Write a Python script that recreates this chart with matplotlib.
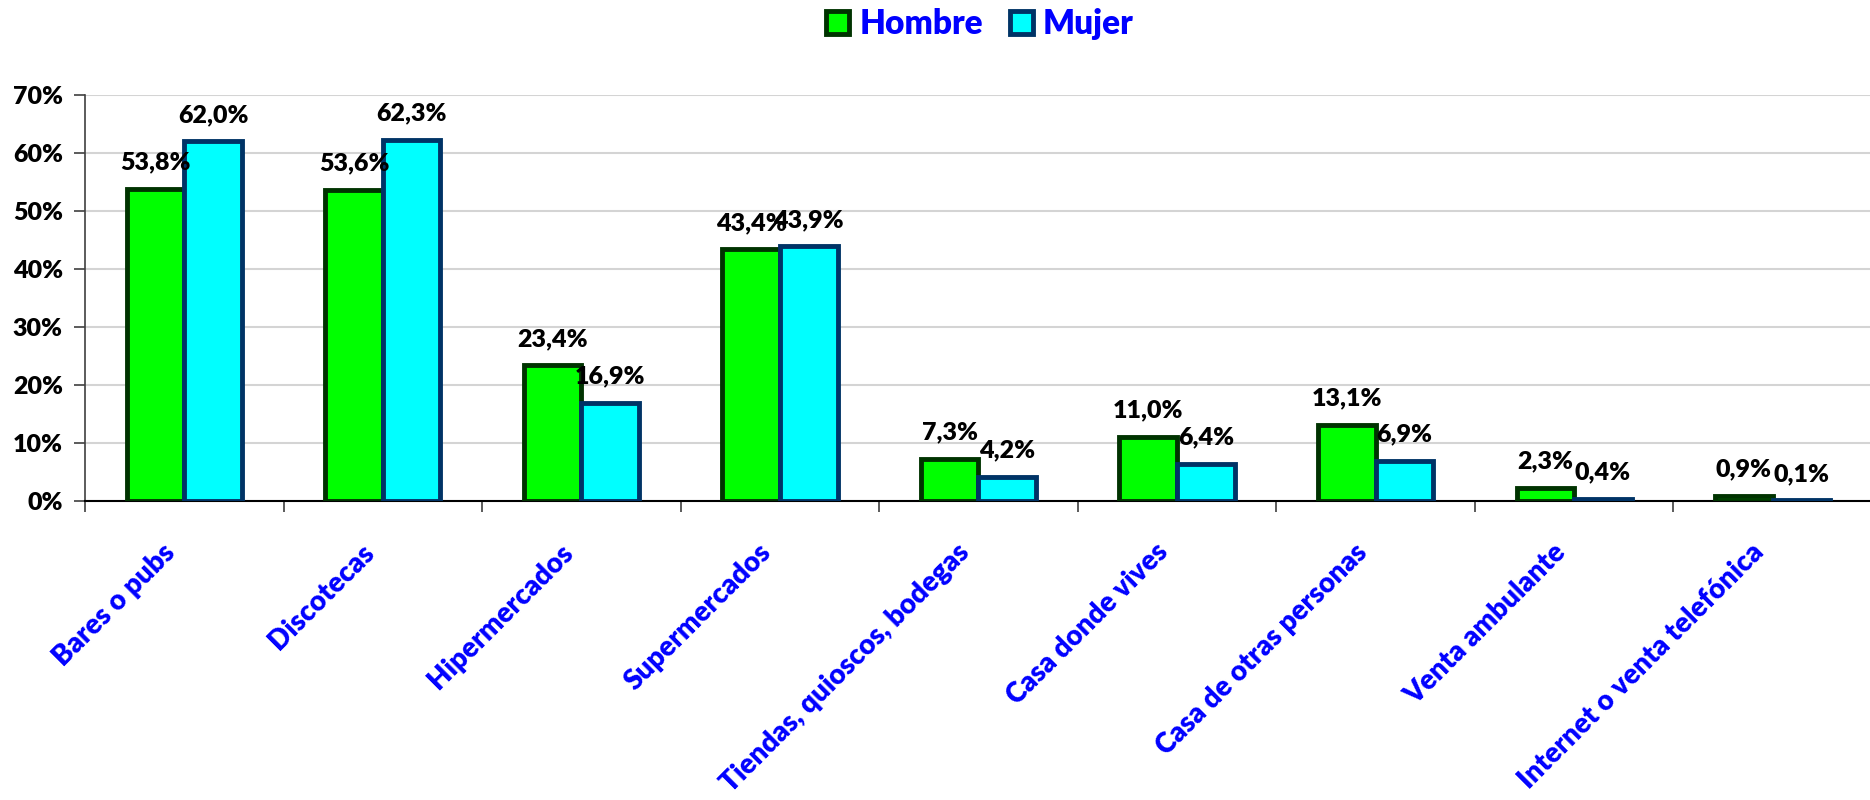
import matplotlib
matplotlib.use("Agg")
import matplotlib.pyplot as plt
import matplotlib.transforms as mtransforms
import numpy as np

categorias = [
    "Bares o pubs",
    "Discotecas",
    "Hipermercados",
    "Supermercados",
    "Tiendas, quioscos, bodegas",
    "Casa donde vives",
    "Casa de otras personas",
    "Venta ambulante",
    "Internet o venta telefónica",
]
hombre = [53.8, 53.6, 23.4, 43.4, 7.3, 11.0, 13.1, 2.3, 0.9]
mujer = [62.0, 62.3, 16.9, 43.9, 4.2, 6.4, 6.9, 0.4, 0.1]
yticks = [0, 10, 20, 30, 40, 50, 60, 70]

plt.rcParams["font.family"] = ["Lato", "DejaVu Sans"]
W = "heavy"

fig = plt.figure(figsize=(18.7, 8), dpi=100)
ax = fig.add_axes([85 / 1870, 1 - 501 / 800, 1787 / 1870, 406 / 800])

x = np.arange(len(categorias))
w = 0.29

b1 = ax.bar(x - w / 2, hombre, width=w, color="#00FF00", edgecolor="#003300",
            linewidth=3.5, label="Hombre", zorder=3)
b2 = ax.bar(x + w / 2, mujer, width=w, color="#00FFFF", edgecolor="#003366",
            linewidth=3.5, label="Mujer", zorder=3)

for bars, vals in ((b1, hombre), (b2, mujer)):
    for rect, v in zip(bars, vals):
        ax.annotate(f"{v:.1f}%".replace(".", ","),
                    (rect.get_x() + rect.get_width() / 2, v),
                    xytext=(0, 14), textcoords="offset points",
                    ha="center", va="baseline", fontsize=18,
                    fontweight=W, color="black", zorder=4)

ax.set_xlim(-0.5, len(categorias) - 0.5)
ax.set_ylim(0, 70)
ax.set_yticks(yticks)
ax.set_yticklabels([f"{t}%" for t in yticks], fontsize=18, fontweight=W)
ax.yaxis.grid(True, color="#D4D4D4", linewidth=1.5, zorder=0)
ax.set_axisbelow(True)

# ticks between categories, labels written under the centres
ax.set_xticks(np.arange(len(categorias) + 1) - 0.5)
ax.set_xticklabels([])
ax.tick_params(axis="x", direction="out", length=8, width=1.2, color="#404040")
ax.tick_params(axis="y", direction="out", length=8, width=1.2,
               color="#404040", pad=8)

lab_tr = ax.get_xaxis_transform() + mtransforms.ScaledTranslation(
    -22 / 100, -38 / 100, fig.dpi_scale_trans)
for xi, c in zip(x, categorias):
    ax.text(xi, 0, c, transform=lab_tr, rotation=45, ha="right", va="top",
            rotation_mode="anchor", fontsize=20, fontweight=W,
            color="#0000FF")

for s in ("top", "right"):
    ax.spines[s].set_visible(False)
ax.spines["left"].set_color("#404040")
ax.spines["left"].set_linewidth(1.2)
ax.spines["bottom"].set_color("black")
ax.spines["bottom"].set_linewidth(1.5)

leg = fig.legend(handles=[b1, b2], labels=["Hombre", "Mujer"],
                 loc="center", bbox_to_anchor=(0.524, 0.97), ncol=2,
                 frameon=False, handlelength=0.7, handleheight=0.7,
                 handletextpad=0.3, columnspacing=0.8,
                 prop={"size": 24, "weight": W})
for t in leg.get_texts():
    t.set_color("#0000FF")

fig.savefig("out.png", dpi=100)
